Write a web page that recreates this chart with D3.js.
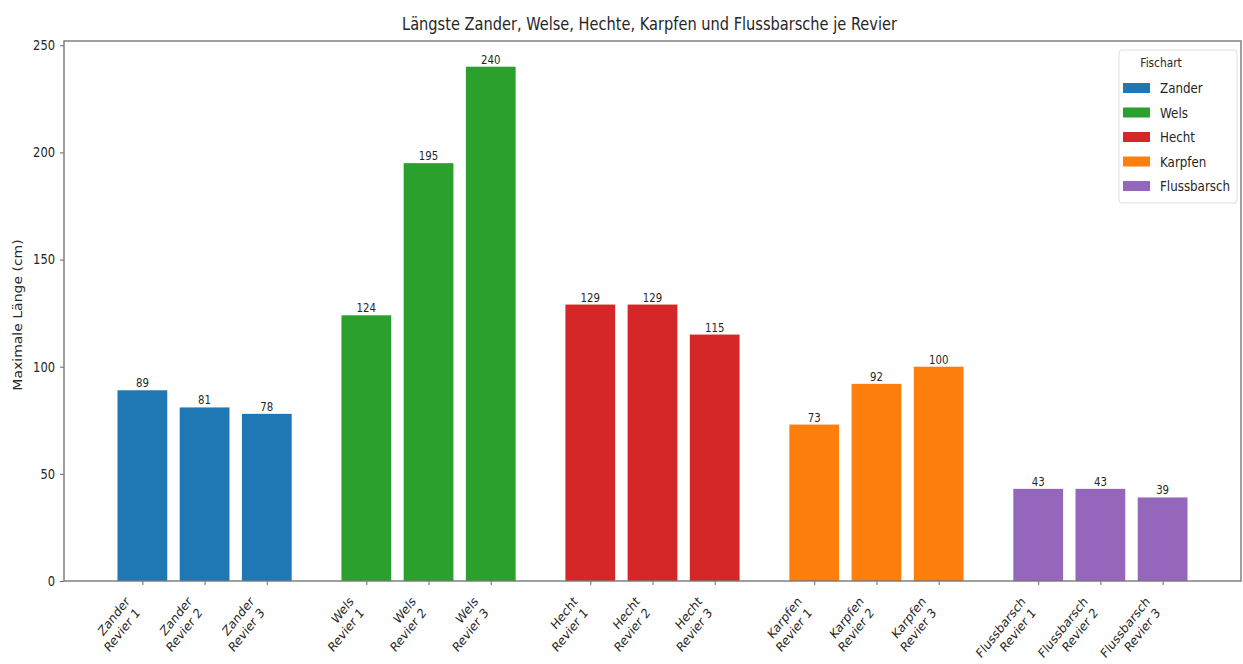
<!DOCTYPE html>
<html>
<head>
<meta charset="utf-8">
<script src="https://cdn.jsdelivr.net/npm/d3@7"></script>
<style>
  html, body { margin: 0; padding: 0; background: #fff; }
  svg text { font-family: "DejaVu Sans", sans-serif; fill: #262626; }
</style>
</head>
<body>
<svg id="chart" width="1243" height="664"></svg>
<script>
// Fish species and their colours
const species = ["Zander", "Wels", "Hecht", "Karpfen", "Flussbarsch"];
const speciesColors = ["#1f77b4", "#2ca02c", "#d62728", "#ff7f0e", "#9467bd"];
const reviere = ["Revier 1", "Revier 2", "Revier 3"];

// Maximum length (cm) per species and Revier
const zander = [89, 81, 78];
const wels = [124, 195, 240];
const hecht = [129, 129, 115];
const karpfen = [73, 92, 100];
const flussbarsch = [43, 43, 39];
const seriesValues = [zander, wels, hecht, karpfen, flussbarsch];

const yTicks = [0, 50, 100, 150, 200, 250];

const title = "Längste Zander, Welse, Hechte, Karpfen und Flussbarsche je Revier";
const yLabel = "Maximale Länge (cm)";
const legendTitle = "Fischart";

// Horizontal squeeze applied to all lettering
const sx = 0.85;

// Flat list of bars: groups of three with a gap between species
const groupStep = 3.6;
const barWidth = 0.8;
const bars = [];
species.forEach((sp, i) => {
  seriesValues[i].forEach((v, j) => {
    bars.push({ species: sp, color: speciesColors[i], revier: reviere[j], value: v, pos: i * groupStep + j });
  });
});

const svg = d3.select("#chart");
const plotLeft = 64, plotRight = 1241, plotTop = 41, plotBottom = 581;

const minPos = d3.min(bars, d => d.pos) - barWidth / 2;
const maxPos = d3.max(bars, d => d.pos) + barWidth / 2;
const padX = (maxPos - minPos) * 0.05;
const x = d3.scaleLinear().domain([minPos - padX, maxPos + padX]).range([plotLeft, plotRight]);
const y = d3.scaleLinear().domain([0, d3.max(bars, d => d.value) * 1.05]).range([plotBottom, plotTop]);

// Bars
svg.append("g").selectAll("rect").data(bars).join("rect")
  .attr("x", d => x(d.pos - barWidth / 2))
  .attr("width", d => x(d.pos + barWidth / 2) - x(d.pos - barWidth / 2))
  .attr("y", d => y(d.value))
  .attr("height", d => y(0) - y(d.value))
  .attr("fill", d => d.color);

// Value labels
svg.append("g").selectAll("text").data(bars).join("text")
  .attr("transform", d => `translate(${x(d.pos)},${y(d.value) - 3}) scale(${sx},1)`)
  .attr("text-anchor", "middle")
  .attr("font-size", 12)
  .text(d => d.value);

// Y axis
const yAxis = d3.axisLeft(y).tickValues(yTicks).tickSize(4).tickPadding(5);
const gy = svg.append("g").attr("transform", `translate(${plotLeft},0)`).call(yAxis);
gy.select(".domain").remove();
gy.selectAll("line").attr("stroke", "#666");
gy.selectAll("text")
  .attr("font-size", 13.5)
  .attr("font-family", null)
  .attr("transform", function() {
    const t = d3.select(this);
    return `translate(${t.attr("x")},0) scale(${sx},1)`;
  })
  .attr("x", 0);

// X axis ticks
const xAxis = d3.axisBottom(x).tickValues(bars.map(d => d.pos)).tickSize(4).tickFormat("");
const gx = svg.append("g").attr("transform", `translate(0,${plotBottom})`).call(xAxis);
gx.select(".domain").remove();
gx.selectAll("line").attr("stroke", "#666");

// Rotated two-line category labels
const lab = svg.append("g").selectAll("g").data(bars).join("g")
  .attr("transform", d => `translate(${x(d.pos) - 12},${plotBottom + 21}) scale(${sx},1) rotate(-47)`);
lab.append("text").attr("text-anchor", "end").attr("font-size", 13.2).attr("y", 0).text(d => d.species);
lab.append("text").attr("text-anchor", "end").attr("font-size", 13.2).attr("y", 16.5).text(d => d.revier);

// Frame
svg.append("rect")
  .attr("x", plotLeft).attr("y", plotTop)
  .attr("width", plotRight - plotLeft).attr("height", plotBottom - plotTop)
  .attr("fill", "none").attr("stroke", "#777").attr("stroke-width", 1.4);

// Title
svg.append("text")
  .attr("x", (plotLeft + plotRight) / 2 - 3).attr("y", 30)
  .attr("text-anchor", "middle").attr("font-size", 17)
  .attr("textLength", 495).attr("lengthAdjust", "spacingAndGlyphs")
  .text(title);

// Y label
svg.append("text")
  .attr("transform", `translate(22,315) scale(${sx},1) rotate(-90)`)
  .attr("text-anchor", "middle").attr("font-size", 14)
  .text(yLabel);

// Legend
const lg = svg.append("g").attr("transform", "translate(1119,50)");
lg.append("rect").attr("width", 118).attr("height", 153).attr("rx", 3)
  .attr("fill", "#fff").attr("stroke", "#ddd");
lg.append("text").attr("transform", `translate(42,17) scale(${sx},1)`)
  .attr("text-anchor", "middle").attr("font-size", 12.5).text(legendTitle);
const rows = lg.selectAll("g.row").data(species).join("g").attr("class", "row")
  .attr("transform", (d, i) => `translate(0,${38 + i * 24.5})`);
rows.append("rect").attr("x", 4).attr("y", -5).attr("width", 27).attr("height", 10)
  .attr("fill", (d, i) => speciesColors[i]);
rows.append("text").attr("transform", `translate(41,5) scale(${sx},1)`)
  .attr("font-size", 14).text(d => d);
</script>
</body>
</html>
